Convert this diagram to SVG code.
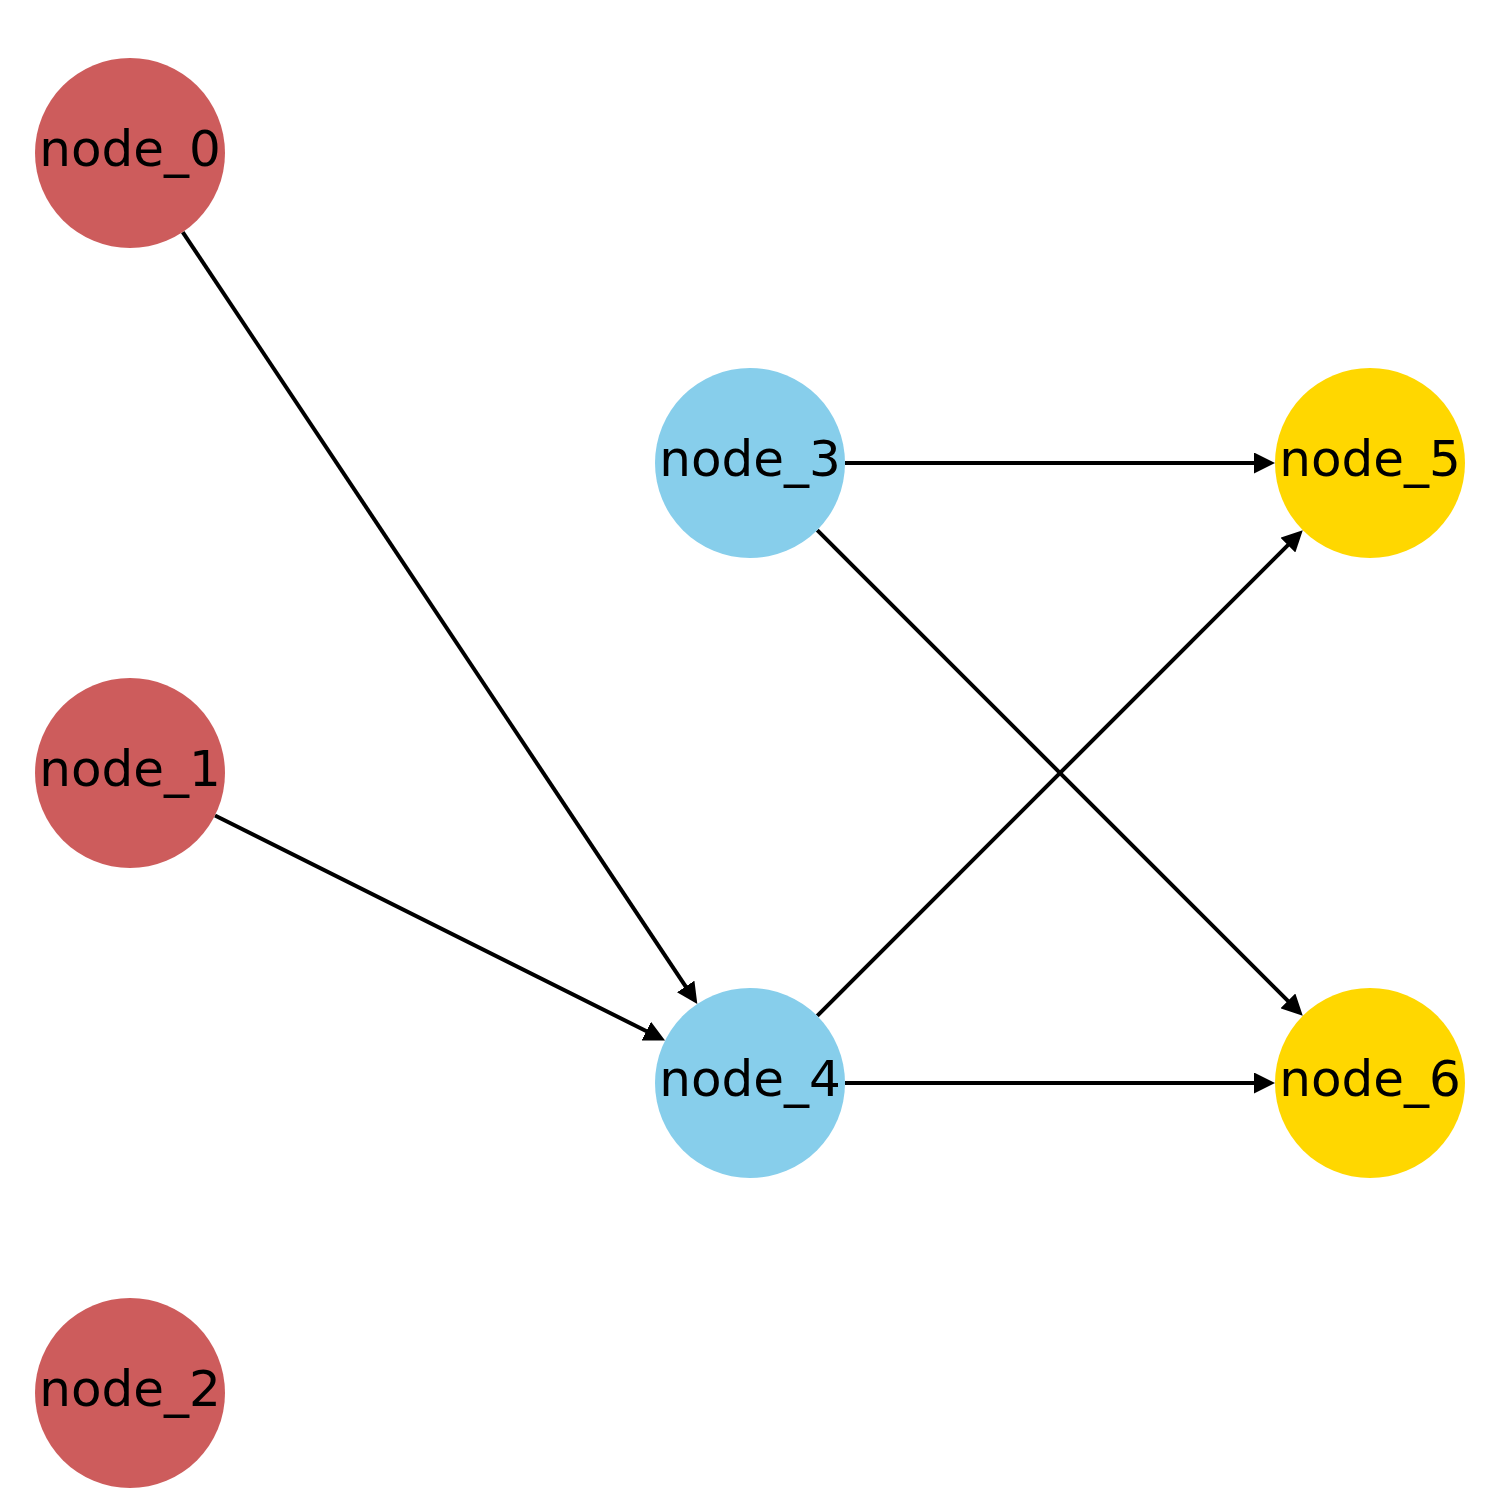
<svg xmlns="http://www.w3.org/2000/svg" width="1500" height="1500" viewBox="0 0 1500 1500">
  <style>
    .edge { stroke: #000; stroke-width: 4; fill: none; marker-end: url(#head); }
    .src { fill: #CD5C5C; }
    .mid { fill: #87CEEB; }
    .dst { fill: #FFD700; }
    .label { font-family: "DejaVu Sans", sans-serif; font-size: 50px; fill: #000; text-anchor: middle; }
  </style>
  <defs>
    <marker id="head" viewBox="0 0 21 21" refX="11" refY="10.5" markerWidth="21" markerHeight="21" markerUnits="userSpaceOnUse" orient="auto">
      <path d="M0,0 L21,10.5 L0,21 Z" fill="#000"/>
    </marker>
  </defs>
  <rect width="1500" height="1500" fill="#fff"/>
  <g id="edges">
    <line class="edge" x1="182.7" y1="232.05" x2="691.75" y2="995.63"/>
    <line class="edge" x1="215.0" y1="815.5" x2="656.1" y2="1036.0"/>
    <line class="edge" x1="845" y1="463" x2="1265" y2="463"/>
    <line class="edge" x1="817.2" y1="530.2" x2="1295.7" y2="1008.7"/>
    <line class="edge" x1="817.2" y1="1015.8" x2="1295.7" y2="537.3"/>
    <line class="edge" x1="845" y1="1083" x2="1265" y2="1083"/>
  </g>
  <g id="node_0"><circle class="src" cx="130" cy="153" r="95"/><text class="label" x="130" y="166">node_0</text></g>
  <g id="node_1"><circle class="src" cx="130" cy="773" r="95"/><text class="label" x="130" y="786">node_1</text></g>
  <g id="node_2"><circle class="src" cx="130" cy="1393" r="95"/><text class="label" x="130" y="1406">node_2</text></g>
  <g id="node_3"><circle class="mid" cx="750" cy="463" r="95"/><text class="label" x="750" y="476">node_3</text></g>
  <g id="node_4"><circle class="mid" cx="750" cy="1083" r="95"/><text class="label" x="750" y="1096">node_4</text></g>
  <g id="node_5"><circle class="dst" cx="1370" cy="463" r="95"/><text class="label" x="1370" y="476">node_5</text></g>
  <g id="node_6"><circle class="dst" cx="1370" cy="1083" r="95"/><text class="label" x="1370" y="1096">node_6</text></g>
</svg>
